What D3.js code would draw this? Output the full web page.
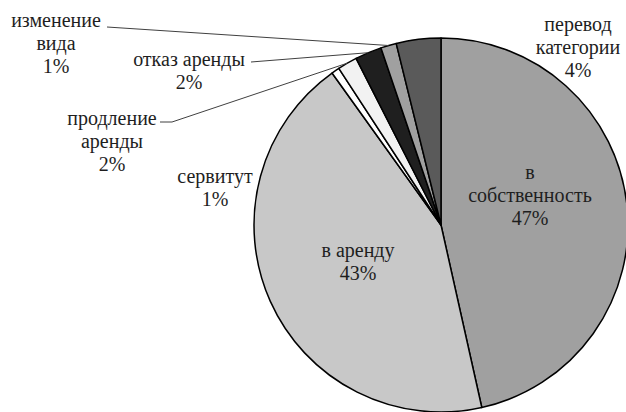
<html lang="ru"><head><meta charset="utf-8">
<script src="https://cdn.jsdelivr.net/npm/d3@7"></script></head>
<body style="margin:0">
<svg id="c" width="626" height="412"></svg>
<script>
// ---- data ----
const categories = ["в собственность", "в аренду", "сервитут", "продление аренды", "отказ аренды", "изменение вида", "перевод категории"];
const values = [46.5, 43.6, 0.7, 1.7, 2.3, 1.35, 3.85];
const pctLabels = ["47%", "43%", "1%", "2%", "2%", "1%", "4%"];
const colors = ["#a0a0a0", "#c8c8c8", "#ffffff", "#f2f2f2", "#1f1f1f", "#a0a0a0", "#5a5a5a"];

// ---- layout (positions, not data) ----
const cx = 441, cy = 225, R = 187;
const lineH = 23;
const FONT = "'Liberation Serif', 'Noto Serif CJK SC', 'Noto Serif', 'DejaVu Serif', serif";
const labelLayout = [
  { lines: ["в", "собственность"], x: 530, y: 172 },
  { lines: ["в аренду"], x: 358, y: 250 },
  { lines: ["сервитут"], x: 215, y: 176 },
  { lines: ["продление", "аренды"], x: 112, y: 118, leader: [[160, 122], [172, 122]] },
  { lines: ["отказ аренды"], x: 189, y: 59, leader: [[251, 62]] },
  { lines: ["изменение", "вида"], x: 56, y: 20, leader: [[107, 27]] },
  { lines: ["перевод", "категории"], x: 578, y: 24 }
];

const svg = d3.select("#c");
const g = svg.append("g").attr("transform", `translate(${cx},${cy})`);

const pie = d3.pie().sort(null).value(d => d.v);
const data = categories.map((c, i) => ({ c, v: values[i], col: colors[i], pct: pctLabels[i] }));
const arcs = pie(data);
const arc = d3.arc().innerRadius(0).outerRadius(R);

g.selectAll("path.slice")
  .data(arcs)
  .enter().append("path")
  .attr("class", "slice")
  .attr("d", arc)
  .attr("fill", d => d.data.col)
  .attr("stroke", "#000")
  .attr("stroke-width", 1.5)
  .attr("stroke-linejoin", "round");

arcs.forEach((a, i) => {
  const L = labelLayout[i];
  if (!L.leader) return;
  const mid = (a.startAngle + a.endAngle) / 2;
  const ex = cx + R * Math.sin(mid), ey = cy - R * Math.cos(mid);
  const pts = L.leader.concat([[ex, ey]]);
  svg.append("path")
    .attr("d", d3.line()(pts))
    .attr("fill", "none")
    .attr("stroke", "#404040")
    .attr("stroke-width", 1);
});

arcs.forEach((a, i) => {
  const L = labelLayout[i];
  const lines = L.lines.concat([a.data.pct]);
  lines.forEach((ln, k) => {
    const t = svg.append("text")
      .attr("x", L.x)
      .attr("y", L.y + k * lineH + 7)
      .style("font-family", FONT)
      .style("font-size", "20px")
      .attr("fill", "#1e1e1e")
      .text(ln);
    const w = t.node().getComputedTextLength();
    t.attr("x", L.x - w / 2);
  });
});
</script></body></html>
